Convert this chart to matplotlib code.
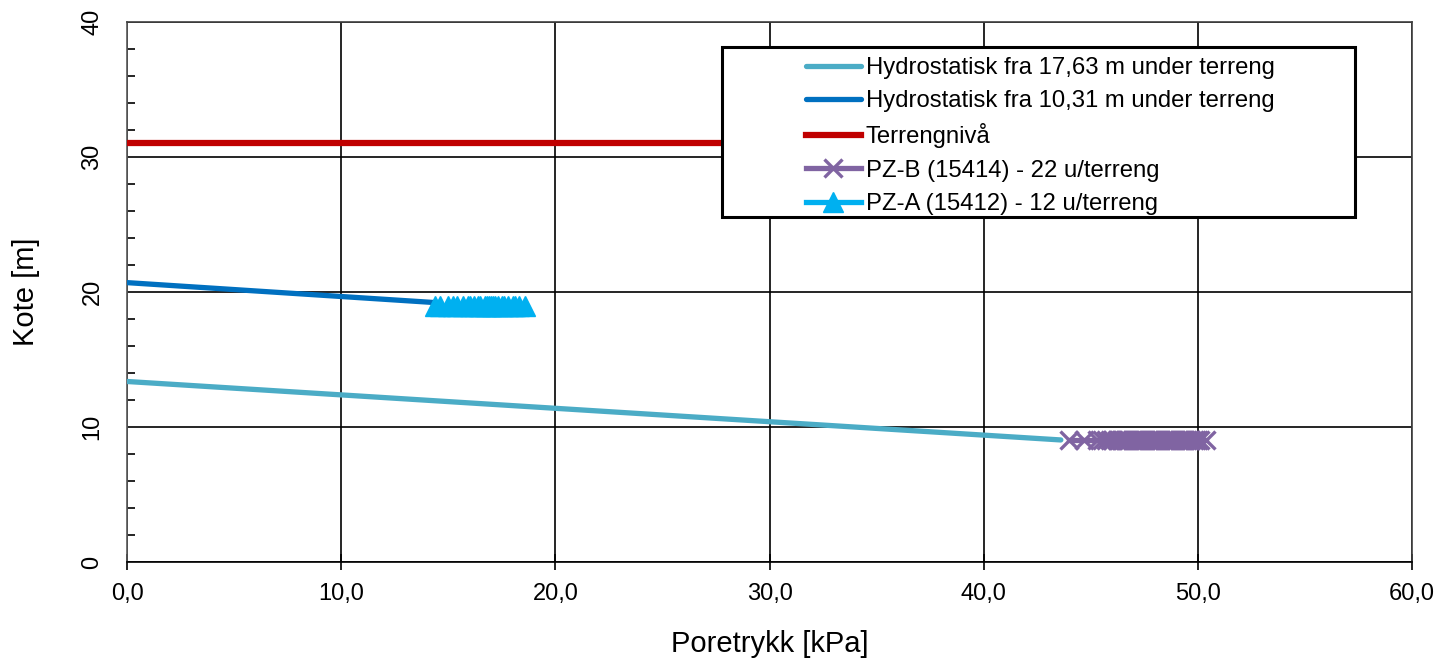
import matplotlib.pyplot as plt
from matplotlib.patches import Rectangle
from matplotlib.ticker import FuncFormatter, MultipleLocator

plt.rcParams['font.family'] = ['Liberation Sans', 'DejaVu Sans']

# hydrostatic lines (pressure kPa, level m)
hyd17_p = [0.0, 43.6]
hyd17_z = [13.37, 9.04]
hyd10_p = [0.0, 14.5]
hyd10_z = [20.69, 19.2]

# terrain level
terr_p = [0.0, 50.0]
terr_z = [31.0, 31.0]

# piezometer readings
pzb_p = [44.0, 44.7, 45.3, 45.5, 45.7, 45.9, 46.0, 46.2, 46.3, 46.4, 46.5, 46.6,
         46.7, 46.8, 46.9, 47.0, 47.1, 47.2, 47.3, 47.4, 47.5, 47.6, 47.7, 47.8,
         47.9, 48.0, 48.1, 48.2, 48.3, 48.4, 48.5, 48.6, 48.7, 48.8, 48.9, 49.0,
         49.1, 49.2, 49.3, 49.4, 49.5, 49.6, 49.7, 49.8, 49.9, 50.0, 50.1, 50.4]
pzb_z = [9.04] * len(pzb_p)
pza_p = [14.4, 14.6, 15.0, 15.2, 15.4, 15.7, 15.9, 16.0, 16.2, 16.4, 16.5, 16.7,
         16.8, 16.9, 17.0, 17.1, 17.2, 17.3, 17.5, 17.6, 17.8, 18.0, 18.1, 18.3, 18.6]
pza_z = [18.96] * len(pza_p)

labels = ["Hydrostatisk fra 17,63 m under terreng",
          "Hydrostatisk fra 10,31 m under terreng",
          "Terrengnivå",
          "PZ-B (15414) - 22 u/terreng",
          "PZ-A (15412) - 12 u/terreng"]

fig = plt.figure(figsize=(14.52, 6.62), dpi=100)
ax = fig.add_axes([0.0875, 0.151, 0.885, 0.816])

l1, = ax.plot(hyd17_p, hyd17_z, color='#4BACC6', lw=3.8, solid_capstyle='round', zorder=3)
l2, = ax.plot(hyd10_p, hyd10_z, color='#0070C0', lw=3.8, solid_capstyle='round', zorder=3)
l3, = ax.plot(terr_p, terr_z, color='#C00000', lw=4.5, zorder=3)
l4, = ax.plot(pzb_p, pzb_z, color='#8064A2', lw=3.8, marker='x', ms=13, mew=2.4, zorder=4)
l5, = ax.plot(pza_p, pza_z, color='#00B0F0', lw=3.8, marker='^', ms=14, zorder=4)

ax.set_xlim(0, 60)
ax.set_ylim(0, 40)
ax.xaxis.set_major_locator(MultipleLocator(10))
ax.yaxis.set_major_locator(MultipleLocator(10))
ax.yaxis.set_minor_locator(MultipleLocator(2))
ax.xaxis.set_major_formatter(FuncFormatter(lambda v, p: f"{v:.1f}".replace('.', ',')))
ax.yaxis.set_major_formatter(FuncFormatter(lambda v, p: f"{v:.0f}"))
ax.grid(True, which='major', color='black', lw=1.2, zorder=1)
ax.tick_params(axis='x', which='major', direction='inout', length=12, width=1.2,
               labelsize=17, pad=9)
ax.tick_params(axis='y', which='major', length=0, labelsize=17, pad=17)
ax.tick_params(axis='y', which='minor', direction='in', length=6, width=1.2)
for lab in ax.get_yticklabels():
    lab.set_rotation(90)
    lab.set_va('center')
for s in ax.spines.values():
    s.set_linewidth(1.2)
ax.spines['left'].set_color('#595959')
ax.spines['top'].set_color('#404040')
ax.spines['right'].set_color('#404040')

ax.set_xlabel("Poretrykk [kPa]", fontsize=21, labelpad=18)
ax.set_ylabel("Kote [m]", fontsize=21, labelpad=30)

# legend box (white, covers lines behind it)
box = Rectangle((722 / 1452, 1 - 217 / 662), (1355 - 722) / 1452, (217 - 47) / 662,
                transform=fig.transFigure, facecolor='white', edgecolor='black',
                lw=2.2, zorder=5)
fig.patches.append(box)

leg = fig.legend([l1, l2, l3, l4, l5], labels, loc='upper left',
                 bbox_to_anchor=(806 / 1452, 1 - 57 / 662), frameon=False,
                 fontsize=17.2, handlelength=2.3, handletextpad=0.2,
                 labelspacing=0.47, borderpad=0, borderaxespad=0)
leg.set_zorder(6)

fig.savefig("out.png", dpi=100)
